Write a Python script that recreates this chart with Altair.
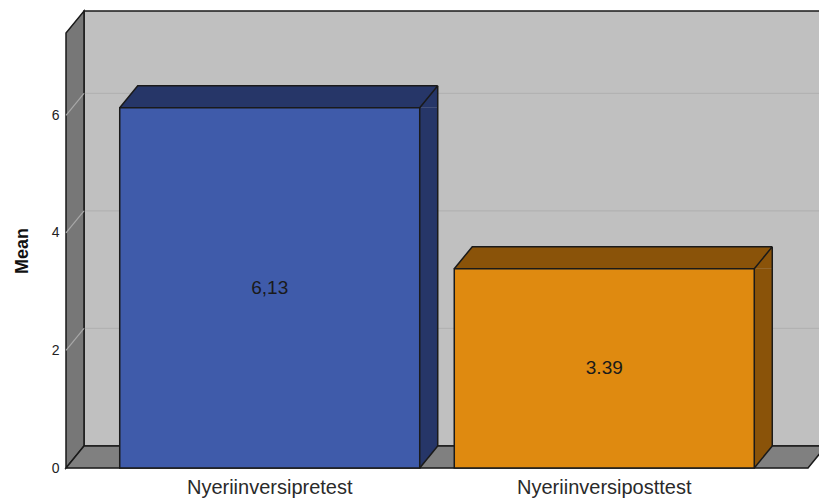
import altair as alt
import pandas as pd

# Bar values
categories = ["Nyeriinversipretest", "Nyeriinversiposttest"]
means = [6.13, 3.39]
value_labels = ["6,13", "3.39"]
y_ticks = [0, 2, 4, 6]
grid_values = [2, 4, 6]

# Styling / layout constants
FRONT = ["#3F5BAA", "#DF8A10"]
DARK = ["#263668", "#8A5309"]
WALL_BACK = "#C0C0C0"
WALL_SIDE = "#777777"
FLOOR = "#808080"
EDGE = "#1a1a1a"
W, H = 742, 435          # plot area in pixels
DX, DY = 18, 22          # 3D depth offset
BW = 300                 # bar width
YMAX = 7.4
FONT = "Liberation Sans"

bars = pd.DataFrame({"category": categories, "mean": means, "label": value_labels})
one = pd.DataFrame({"v": [0]})
grid = pd.DataFrame({"g": grid_values})

x_enc = alt.X("category:N", sort=categories,
              scale=alt.Scale(paddingInner=0, paddingOuter=0.109),
              axis=alt.Axis(title=None, labelFontSize=20, labelColor="#2a2a2a",
                            labelPadding=9, ticks=False, domain=False, labelAngle=0,
                            labelFont=FONT))
y_scale = alt.Scale(domain=[0, YMAX], nice=False, zero=True)
y_enc = alt.Y("mean:Q", scale=y_scale,
              axis=alt.Axis(title="Mean", values=y_ticks, format="d", grid=False,
                            domain=False, ticks=False, labelPadding=7, labelFontSize=14,
                            labelColor="#222222", titleFontSize=18,
                            titleFontWeight="bold", titleColor="#111111",
                            titlePadding=20, labelFont=FONT, titleFont=FONT))
front_fill = alt.Fill("category:N", scale=alt.Scale(domain=categories, range=FRONT), legend=None)
dark_fill = alt.Fill("category:N", scale=alt.Scale(domain=categories, range=DARK), legend=None)


def shape(fill, stroke, path, width=1.5):
    # size=4 makes the custom symbol path units equal to pixels
    kw = dict(shape=path, size=4, filled=fill is not None, opacity=1, strokeWidth=width)
    if fill is not None:
        kw["fill"] = fill
    if stroke is not None:
        kw["stroke"] = stroke
    else:
        kw["strokeOpacity"] = 0
    return alt.Chart(one).mark_point(**kw)


# Walls and floor
back_wall = shape(WALL_BACK, EDGE,
                  f"M{DX},{-DY} L{DX},{-H - DY} L{W + DX + 60},{-H - DY} L{W + DX + 60},{-DY} Z"
                  ).encode(x=alt.value(0), y=alt.Y("v:Q", scale=y_scale))
back_grid = alt.Chart(grid).mark_rule(color="#B2B2B2", strokeWidth=1.2, yOffset=-DY).encode(
    x=alt.value(DX), x2=alt.value(W + DX + 60), y=alt.Y("g:Q", scale=y_scale))
side_wall = shape(WALL_SIDE, EDGE,
                  f"M0,0 L0,{-H} L{DX},{-H - DY} L{DX},{-DY} Z"
                  ).encode(x=alt.value(0), y=alt.Y("v:Q", scale=y_scale))
side_grid = alt.Chart(grid).mark_rule(color="#A8A8A8", strokeWidth=1.2, y2Offset=-DY).encode(
    x=alt.value(0), x2=alt.value(DX), y=alt.Y("g:Q", scale=y_scale), y2="g:Q")
floor = shape(FLOOR, EDGE,
              f"M0,0 L{DX},{-DY} L{W + DX},{-DY} L{W},0 Z"
              ).encode(x=alt.value(0), y=alt.Y("v:Q", scale=y_scale))

base = alt.Chart(bars)

# Bar depth faces
side_face = base.mark_bar(width=DX, xOffset=BW / 2 + DX / 2, y2Offset=-DY).encode(
    x=x_enc, y=y_enc, y2=alt.datum(0), fill=dark_fill)
top_face = base.mark_point(
    shape=f"M{-BW / 2},0 L{-BW / 2 + DX},{-DY} L{BW / 2 + DX},{-DY} L{BW / 2 + DX},0 L{BW / 2},0 Z",
    size=4, filled=True, opacity=1, strokeOpacity=0).encode(x=x_enc, y=y_enc, fill=dark_fill)
bottom_face = base.mark_point(
    shape=f"M{BW / 2},{-DY} L{BW / 2 + DX},{-DY} L{BW / 2},0 Z",
    size=4, filled=True, opacity=1, strokeOpacity=0).encode(
    x=x_enc, y=alt.datum(0, scale=y_scale), fill=dark_fill)

# Front faces
front = base.mark_bar(width=BW, stroke=EDGE, strokeWidth=1.5).encode(
    x=x_enc, y=y_enc, y2=alt.datum(0), fill=front_fill)

# Edges of the depth faces
top_edges = base.mark_point(
    shape=f"M{-BW / 2},0 L{-BW / 2 + DX},{-DY} L{BW / 2 + DX},{-DY} M{BW / 2},0 L{BW / 2 + DX},{-DY}",
    size=4, filled=False, opacity=1, stroke=EDGE, strokeWidth=1.5).encode(x=x_enc, y=y_enc)
right_edge = base.mark_rule(color=EDGE, strokeWidth=1.5, xOffset=BW / 2 + DX,
                            yOffset=-DY, y2Offset=-DY).encode(
    x=x_enc, y=y_enc, y2=alt.datum(0))
bottom_edge = base.mark_point(
    shape=f"M{BW / 2},0 L{BW / 2 + DX},{-DY}",
    size=4, filled=False, opacity=1, stroke=EDGE, strokeWidth=1.5).encode(
    x=x_enc, y=alt.datum(0, scale=y_scale))

# Value labels in the middle of each front face
labels = base.transform_calculate(mid="datum.mean / 2").mark_text(
    fontSize=19, color="#1a1a1a", font=FONT).encode(
    x=x_enc, y=alt.Y("mid:Q", scale=y_scale), text="label:N")

chart = alt.layer(
    back_wall, back_grid, side_wall, side_grid, floor,
    side_face, top_face, bottom_face, front,
    top_edges, right_edge, bottom_edge, labels,
).resolve_scale(fill="independent").properties(
    width=W, height=H,
    padding={"left": 66, "top": 33, "right": 11, "bottom": 32},
    autosize=alt.AutoSizeParams(type="none"),
    background="white",
).configure_view(stroke=None).configure(font=FONT)

chart.save("out.html", embed_options={"renderer": "svg", "actions": False})
